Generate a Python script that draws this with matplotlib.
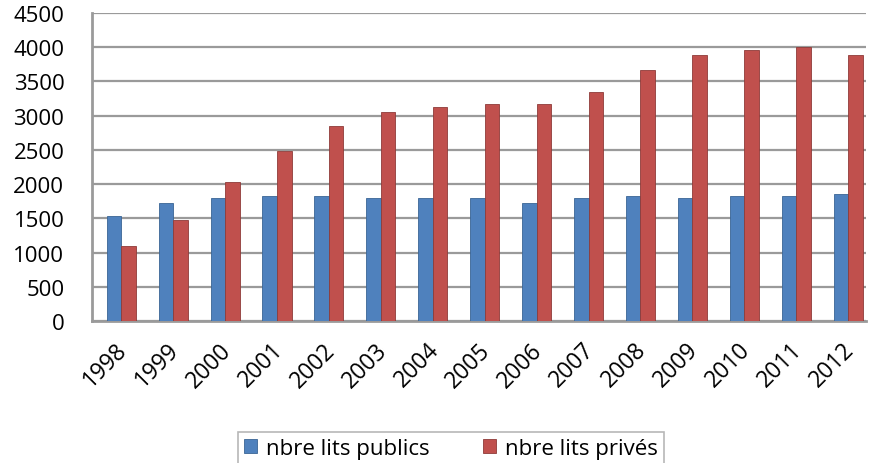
import matplotlib.pyplot as plt
import numpy as np
from matplotlib.transforms import ScaledTranslation

# data
years = ['1998', '1999', '2000', '2001', '2002', '2003', '2004', '2005',
         '2006', '2007', '2008', '2009', '2010', '2011', '2012']
lits_publics = [1530, 1720, 1800, 1820, 1820, 1800, 1800, 1800,
                1720, 1800, 1830, 1800, 1830, 1820, 1860]
lits_prives = [1090, 1470, 2030, 2490, 2850, 3060, 3120, 3170,
               3170, 3350, 3660, 3890, 3960, 4000, 3890]
y_ticks = [0, 500, 1000, 1500, 2000, 2500, 3000, 3500, 4000, 4500]

plt.rcParams['font.family'] = ['Open Sans', 'DejaVu Sans']

fig = plt.figure(figsize=(8.69, 4.64), dpi=100)
ax = fig.add_axes([0.106, 0.306, 0.891, 0.664])

x = np.arange(len(years))
w = 0.28
ax.bar(x - w / 2, lits_publics, w, color='#4F81BD', edgecolor='#3A6595',
       linewidth=0.6, label='nbre lits publics', zorder=3)
ax.bar(x + w / 2, lits_prives, w, color='#C0504D', edgecolor='#8E3B39',
       linewidth=0.6, label='nbre lits privés', zorder=3)

ax.set_xlim(-0.56, 14.35)
ax.set_ylim(0, 4500)
ax.set_yticks(y_ticks)
ax.yaxis.grid(True, color='#9a9a9a', linewidth=1.6, zorder=0)
ax.tick_params(axis='y', length=0, labelsize=16, pad=20)
ax.tick_params(axis='x', length=0, labelsize=16.5, pad=12)

ax.set_xticks(x)
ax.set_xticklabels(years, rotation=45, ha='right', va='top',
                   rotation_mode='anchor')
shift = ScaledTranslation(-6 / 100, 0, fig.dpi_scale_trans)
for lbl in ax.get_xticklabels():
    lbl.set_transform(lbl.get_transform() + shift)

for side in ['top', 'right']:
    ax.spines[side].set_visible(False)
ax.spines['left'].set_color('#9a9a9a')
ax.spines['left'].set_linewidth(2)
ax.spines['bottom'].set_color('#9a9a9a')
ax.spines['bottom'].set_linewidth(2)

leg = fig.legend(loc='upper center', bbox_to_anchor=(0.519, 1 - 422 / 464),
                 ncol=2, frameon=True, fancybox=False, fontsize=16,
                 handlelength=0.6, handleheight=0.6, handletextpad=0.4,
                 columnspacing=2.4, borderpad=0.25)
leg.get_frame().set_edgecolor('#a6a6a6')
leg.get_frame().set_linewidth(1.2)

fig.savefig('out.png', dpi=100)
